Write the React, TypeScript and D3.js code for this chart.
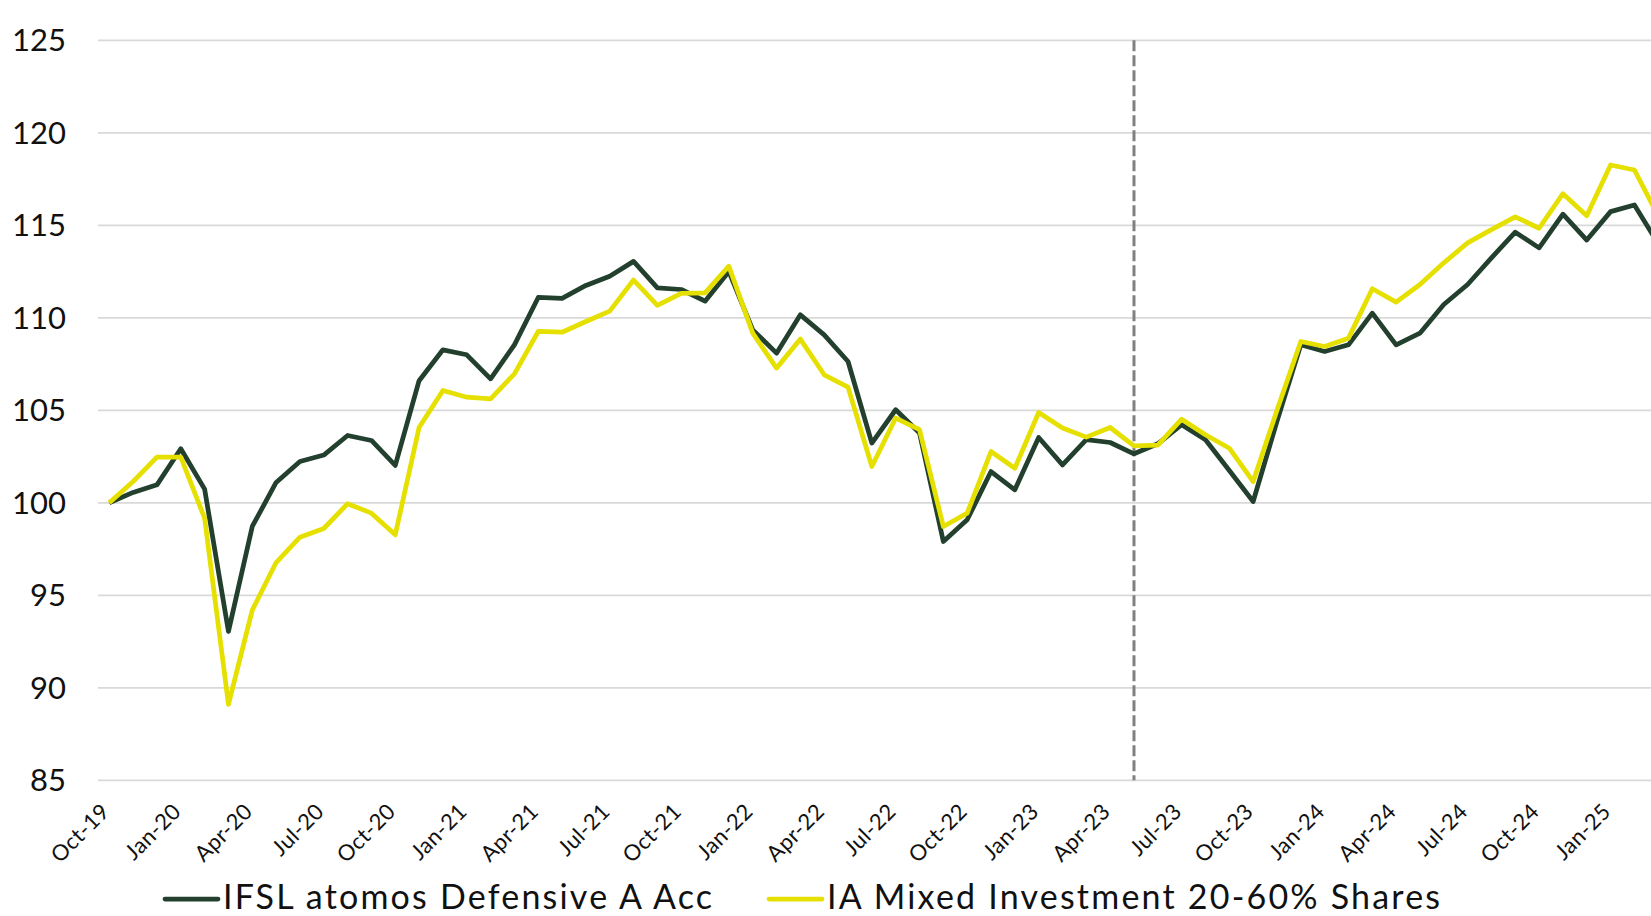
import { useEffect, useRef } from "react"
import * as d3 from "d3"

const months = [
  "Oct-19", "Nov-19", "Dec-19", "Jan-20", "Feb-20", "Mar-20", "Apr-20", "May-20", "Jun-20", "Jul-20", "Aug-20", "Sep-20",
  "Oct-20", "Nov-20", "Dec-20", "Jan-21", "Feb-21", "Mar-21", "Apr-21", "May-21", "Jun-21", "Jul-21", "Aug-21", "Sep-21",
  "Oct-21", "Nov-21", "Dec-21", "Jan-22", "Feb-22", "Mar-22", "Apr-22", "May-22", "Jun-22", "Jul-22", "Aug-22", "Sep-22",
  "Oct-22", "Nov-22", "Dec-22", "Jan-23", "Feb-23", "Mar-23", "Apr-23", "May-23", "Jun-23", "Jul-23", "Aug-23", "Sep-23",
  "Oct-23", "Nov-23", "Dec-23", "Jan-24", "Feb-24", "Mar-24", "Apr-24", "May-24", "Jun-24", "Jul-24", "Aug-24", "Sep-24",
  "Oct-24", "Nov-24", "Dec-24", "Jan-25", "Feb-25", "Mar-25",
]

const fundValues = [
  100.0, 100.56, 100.97, 102.92, 100.74, 93.05, 98.72, 101.1, 102.23, 102.58, 103.64, 103.37,
  102.02, 106.6, 108.27, 108.0, 106.7, 108.54, 111.1, 111.05, 111.75, 112.25, 113.05, 111.62,
  111.53, 110.9, 112.5, 109.35, 108.09, 110.16, 109.08, 107.64, 103.23, 105.03, 103.77, 97.91,
  99.08, 101.69, 100.7, 103.53, 102.05, 103.41, 103.26, 102.65, 103.19, 104.22, 103.41, 101.75,
  100.07, 104.4, 108.54, 108.18, 108.54, 110.25, 108.54, 109.17, 110.72, 111.8, 113.24, 114.63,
  113.78, 115.6, 114.2, 115.74, 116.1, 114.0,
]

const sectorValues = [
  100.0, 101.15, 102.47, 102.47, 99.17, 89.1, 94.2, 96.77, 98.14, 98.61, 99.95, 99.44,
  98.27, 104.07, 106.07, 105.71, 105.62, 106.97, 109.26, 109.22, 109.8, 110.36, 112.04, 110.67,
  111.32, 111.35, 112.79, 109.17, 107.28, 108.85, 106.92, 106.25, 101.96, 104.58, 103.95, 98.72,
  99.44, 102.77, 101.87, 104.88, 104.04, 103.55, 104.07, 103.08, 103.12, 104.52, 103.68, 102.95,
  101.15, 105.0, 108.72, 108.45, 108.9, 111.57, 110.85, 111.8, 112.97, 114.05, 114.77, 115.46,
  114.84, 116.71, 115.52, 118.26, 117.99, 115.5,
]

const yTicks = [85, 90, 95, 100, 105, 110, 115, 120, 125]
const xTicks = [
  "Oct-19", "Jan-20", "Apr-20", "Jul-20", "Oct-20", "Jan-21", "Apr-21", "Jul-21", "Oct-21", "Jan-22", "Apr-22",
  "Jul-22", "Oct-22", "Jan-23", "Apr-23", "Jul-23", "Oct-23", "Jan-24", "Apr-24", "Jul-24", "Oct-24", "Jan-25",
]
const markerMonth = "May-23"

const seriesNames = ["IFSL atomos Defensive A Acc", "IA Mixed Investment 20-60% Shares"]
const seriesColors = ["#22402d", "#e6e000"]

const W = 1651
const H = 916
const FONT = "Lato, 'Noto Sans', sans-serif"

const App = () => {
  const svgRef = useRef<SVGSVGElement>(null)

  useEffect(() => {
    const svg = d3.select(svgRef.current)
    svg.selectAll("*").remove()

    const x = d3.scalePoint<string>().domain(months).range([109.3, 109.3 + 23.83 * (months.length - 1)])
    const y = d3.scaleLinear().domain([85, 125]).range([780.3, 40.3])

    // gridlines
    svg
      .append("g")
      .selectAll("line")
      .data(yTicks)
      .join("line")
      .attr("x1", 98)
      .attr("x2", W)
      .attr("y1", (d) => y(d))
      .attr("y2", (d) => y(d))
      .attr("stroke", "#d9d9d9")
      .attr("stroke-width", 1.75)

    // y labels
    svg
      .append("g")
      .selectAll("text")
      .data(yTicks)
      .join("text")
      .attr("x", 66)
      .attr("y", (d) => y(d) + 11)
      .attr("text-anchor", "end")
      .style("font-family", FONT)
      .style("font-size", "31px")
      .style("fill", "#111")
      .text((d) => d)

    // x labels
    svg
      .append("g")
      .selectAll("text")
      .data(xTicks)
      .join("text")
      .attr("transform", (d) => `translate(${(x(d) ?? 0) + 1.5},813) rotate(-45)`)
      .attr("text-anchor", "end")
      .style("font-family", FONT)
      .style("font-size", "22px")
      .style("letter-spacing", "0.4px")
      .style("fill", "#111")
      .text((d) => d)

    // marker line
    const mx = x(markerMonth) ?? 0
    svg
      .append("line")
      .attr("x1", mx)
      .attr("x2", mx)
      .attr("y1", y(125))
      .attr("y2", y(85))
      .attr("stroke", "#808080")
      .attr("stroke-width", 3)
      .attr("stroke-dasharray", "11 4")

    const line = d3
      .line<number>()
      .x((_, i) => x(months[i]) ?? 0)
      .y((d) => y(d))

    const allSeries = [fundValues, sectorValues]
    allSeries.forEach((vals, k) => {
      svg
        .append("path")
        .datum(vals)
        .attr("fill", "none")
        .attr("stroke", seriesColors[k])
        .attr("stroke-width", 4.75)
        .attr("stroke-linejoin", "round")
        .attr("d", line)
    })

    // legend
    const legendX = [165, 769]
    const legend = svg.append("g")
    seriesNames.forEach((name, k) => {
      legend
        .append("line")
        .attr("x1", legendX[k])
        .attr("x2", legendX[k] + 53)
        .attr("y1", 899)
        .attr("y2", 899)
        .attr("stroke", seriesColors[k])
        .attr("stroke-width", 4.75)
        .attr("stroke-linecap", "round")
      legend
        .append("text")
        .attr("x", legendX[k] + 58)
        .attr("y", 909)
        .style("font-family", FONT)
        .style("font-size", "34px")
        .style("letter-spacing", "2.2px")
        .style("fill", "#111")
        .text(name)
    })
  }, [])

  return (
    <svg
      ref={svgRef}
      width={W}
      height={H}
      style={{ position: "absolute", left: 0, top: 0, display: "block", background: "#fff" }}
    ></svg>
  )
}

export default App
